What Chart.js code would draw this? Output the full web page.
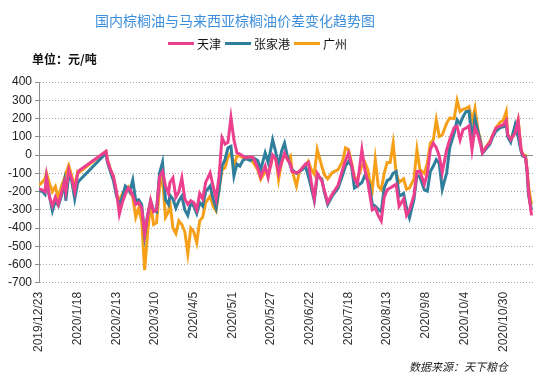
<!DOCTYPE html>
<html>
<head>
<meta charset="utf-8">
<script src="https://cdn.jsdelivr.net/npm/chart.js@4.4.0/dist/chart.umd.min.js"></script>
<style>
  html,body{margin:0;padding:0;background:#fff;}
  #wrap{position:relative;width:550px;height:379px;overflow:hidden;}
  #chart{position:absolute;left:0;top:0;}
  .title{position:absolute;left:0;width:470px;top:10px;text-align:center;font:14px "Noto Sans CJK SC",sans-serif;color:#3d8fdb;}
  .legend{position:absolute;left:168px;top:35px;display:flex;align-items:center;font:12px "Noto Sans CJK SC",sans-serif;color:#111;}
  .legend .item{display:flex;align-items:center;margin-right:4px;}
  .legend .swatch{width:26px;height:3px;margin-right:3px;}
  .unit{position:absolute;left:32px;top:50px;font:bold 12px "Noto Sans CJK SC",sans-serif;color:#111;}
  .source{position:absolute;right:42px;top:358px;font:italic 11px "Noto Sans CJK SC",sans-serif;color:#222;}
</style>
</head>
<body>
<div id="wrap">
  <canvas id="chart" width="550" height="379"></canvas>
  <div class="title">国内棕榈油与马来西亚棕榈油价差变化趋势图</div>
  <div class="legend" id="legend"></div>
  <div class="unit">单位：元/吨</div>
  <div class="source">数据来源：天下粮仓</div>
</div>
<script>
const DATES = [
  '2019/12/23','2019/12/25','2019/12/27','2019/12/28','2019/12/30','2020/1/1','2020/1/3','2020/1/5','2020/1/7','2020/1/9',
  '2020/1/10','2020/1/12','2020/1/14','2020/1/16','2020/1/18','2020/1/19','2020/2/6','2020/2/7','2020/2/9','2020/2/11',
  '2020/2/13','2020/2/15','2020/2/17','2020/2/19','2020/2/21','2020/2/22','2020/2/24','2020/2/26','2020/2/28','2020/3/1',
  '2020/3/3','2020/3/5','2020/3/7','2020/3/9','2020/3/11','2020/3/13','2020/3/15','2020/3/17','2020/3/19','2020/3/20',
  '2020/3/22','2020/3/24','2020/3/26','2020/3/28','2020/3/30','2020/4/1','2020/4/3','2020/4/5','2020/4/7','2020/4/9',
  '2020/4/11','2020/4/13','2020/4/16','2020/4/18','2020/4/20','2020/4/22','2020/4/24','2020/4/26','2020/4/28','2020/4/30',
  '2020/5/2','2020/5/4','2020/5/6','2020/5/8','2020/5/10','2020/5/13','2020/5/15','2020/5/18','2020/5/20','2020/5/23',
  '2020/5/25','2020/5/27','2020/5/28','2020/5/30','2020/6/1','2020/6/3','2020/6/5','2020/6/7','2020/6/9','2020/6/10',
  '2020/6/13','2020/6/15','2020/6/17','2020/6/19','2020/6/21','2020/6/23','2020/6/25','2020/6/27','2020/6/30','2020/7/2',
  '2020/7/4','2020/7/7','2020/7/11','2020/7/14','2020/7/16','2020/7/18','2020/7/20','2020/7/22','2020/7/24','2020/7/27',
  '2020/7/29','2020/7/31','2020/8/1','2020/8/3','2020/8/5','2020/8/7','2020/8/9','2020/8/11','2020/8/13','2020/8/15',
  '2020/8/17','2020/8/19','2020/8/21','2020/8/24','2020/8/26','2020/8/28','2020/8/31','2020/9/2','2020/9/4','2020/9/7',
  '2020/9/9','2020/9/11','2020/9/13','2020/9/15','2020/9/17','2020/9/19','2020/9/22','2020/9/24','2020/9/27','2020/9/29',
  '2020/10/1','2020/10/3','2020/10/5','2020/10/7','2020/10/9','2020/10/11','2020/10/13','2020/10/15','2020/10/16','2020/10/19',
  '2020/10/21','2020/10/23','2020/10/25','2020/10/28','2020/10/30','2020/11/1','2020/11/2','2020/11/4','2020/11/7','2020/11/9',
  '2020/11/11','2020/11/12','2020/11/14','2020/11/15','2020/11/16','2020/11/18'
];

const TIANJIN = [
  -185,-190,-200,-120,-230,-277,-230,-270,-210,-150,
  -200,-80,-130,-200,-100,-85,20,-30,-80,-117,
  -195,-323,-260,-215,-180,-185,-220,-270,-260,-290,
  -430,-330,-250,-310,-300,-120,-90,-170,-210,-150,
  -125,-230,-200,-125,-240,-270,-250,-260,-300,-210,
  -240,-150,-97,-170,-240,-115,95,60,70,205,
  83,12,5,-5,-15,-10,-15,-70,-120,-60,
  -123,-40,0,-20,-100,-40,10,-25,-50,-90,
  -97,-90,-70,-50,-40,-150,-240,-100,-140,-200,
  -260,-215,-165,-80,-30,10,-50,-130,-160,30,
  -80,-150,-200,-300,-290,-330,-360,-230,-190,-180,
  -170,-160,-280,-240,-330,-300,-220,-90,-90,-160,
  -100,30,65,40,-5,-95,30,84,150,157,
  84,140,147,160,30,150,110,50,12,50,
  66,110,147,160,165,190,111,84,120,190,
  30,3,-15,-80,-200,-330
];

const ZHANGJIAGANG = [
  -200,-196,-215,-131,-225,-305,-250,-277,-225,-145,
  -250,-106,-143,-240,-152,-140,10,-40,-90,-140,
  -220,-272,-230,-170,-185,-200,-137,-250,-245,-270,
  -440,-330,-250,-300,-310,-100,-40,-245,-270,-220,
  -240,-290,-250,-225,-300,-330,-260,-280,-320,-260,
  -280,-200,-170,-240,-290,-187,-60,-25,40,48,
  -115,-50,-60,-30,-20,-30,-15,-30,-80,12,
  -40,40,83,20,-60,20,65,-10,-60,-80,
  -100,-90,-80,-60,-115,-180,-250,-115,-130,-210,
  -270,-225,-180,-110,-60,-35,-60,-180,-170,-150,
  -110,-140,-160,-270,-280,-297,-310,-180,-140,-130,
  -100,-90,-225,-210,-290,-343,-242,-110,-120,-190,
  -197,-90,-60,-25,-45,-187,-97,40,120,193,
  170,210,238,240,84,200,130,60,10,40,
  60,100,130,150,155,165,100,70,165,100,
  20,-5,-10,-90,-220,-300
];

const GUANGZHOU = [
  -165,-150,-130,-97,-155,-200,-172,-240,-172,-130,
  -100,-57,-117,-172,-90,-95,20,-24,-80,-117,
  -212,-250,-212,-190,-175,-200,-230,-340,-290,-360,
  -630,-420,-270,-380,-370,-180,-120,-340,-310,-260,
  -400,-430,-360,-380,-420,-540,-400,-420,-480,-360,
  -340,-260,-225,-280,-305,-190,-80,-70,-10,12,
  -60,-5,-5,-15,-15,-25,-40,-80,-132,-90,
  -100,-50,-5,-5,-133,-40,5,-25,-5,-80,
  -170,-90,-70,-60,-35,-80,-105,30,-60,-110,
  -130,-97,-80,-35,40,30,-40,-125,-130,-60,
  -40,-80,-130,-190,-25,-170,-190,-100,-40,-40,
  65,-97,-150,-130,-187,-180,-130,30,-80,-100,
  -43,65,83,193,102,110,175,203,200,298,
  238,250,256,265,185,256,138,70,15,50,
  75,110,150,180,190,238,111,84,150,196,
  30,3,-2,-78,-170,-270
];

const TICK_LABELS = ['2019/12/23','2020/1/18','2020/2/13','2020/3/10','2020/4/5','2020/5/1','2020/5/27',
  '2020/6/22','2020/7/18','2020/8/13','2020/9/8','2020/10/4','2020/10/30'];

const SERIES = [
  { label:'天津',   data:TIANJIN,      color:'#ec3f8e' },
  { label:'张家港', data:ZHANGJIAGANG, color:'#2f7f9c' },
  { label:'广州',   data:GUANGZHOU,    color:'#f6a01a' },
];

function dayOf(s){
  const [y,m,d] = s.split('/').map(Number);
  return (Date.UTC(y,m-1,d) - Date.UTC(2019,11,23)) / 86400000;
}

document.getElementById('legend').innerHTML = SERIES.map(s =>
  `<span class="item"><span class="swatch" style="background:${s.color}"></span>${s.label}</span>`).join('');

const tickMap = {};
TICK_LABELS.forEach(l => { tickMap[dayOf(l)] = l; });

new Chart(document.getElementById('chart'), {
  type:'line',
  data:{
    datasets: SERIES.map(s => ({
      label:s.label,
      data:DATES.map((d,i) => ({x:dayOf(d), y:s.data[i]})),
      borderColor:s.color, backgroundColor:s.color,
      borderWidth:3, pointRadius:0, tension:0, fill:false,
    }))
  },
  options:{
    responsive:false, animation:false,
    layout:{ padding:{ left:5, right:17, top:82, bottom:18 } },
    plugins:{ legend:{display:false}, tooltip:{enabled:false} },
    scales:{
      x:{
        type:'linear', min:0, max:332,
        afterBuildTicks: axis => { axis.ticks = TICK_LABELS.map(l => ({value:dayOf(l)})); },
        ticks:{ callback: v => tickMap[v] || '', minRotation:90, maxRotation:90, autoSkip:false,
                color:'#333', font:{family:'"Liberation Sans", Arial, sans-serif', size:12}, padding:9 },
        grid:{ display:false, drawTicks:false },
        border:{ display:false },
      },
      y:{
        min:-700, max:400,
        ticks:{ stepSize:100, color:'#222', font:{family:'"Liberation Sans", Arial, sans-serif', size:12}, padding:3 },
        grid:{
          color: c => c.tick && c.tick.value === 0 ? '#8c8c8c' : '#a6a6a6',
          lineWidth:1, tickLength:4, tickColor:'#8c8c8c',
        },
        border:{ display:true, color:'#8c8c8c', dash: c => c.tick && c.tick.value === 0 ? [] : [1,2] },
      }
    }
  }
});
</script>
</body>
</html>
